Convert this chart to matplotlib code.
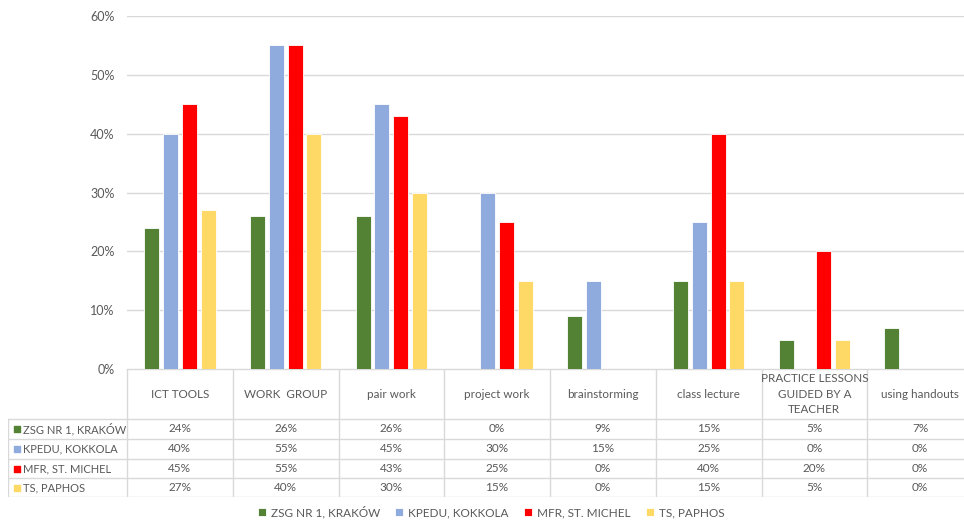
import matplotlib.pyplot as plt
import numpy as np

plt.rcParams['font.family'] = ['Lato', 'DejaVu Sans']

categories = ['ICT TOOLS', 'WORK  GROUP', 'pair work', 'project work', 'brainstorming',
              'class lecture', 'PRACTICE LESSONS\nGUIDED BY A\nTEACHER', 'using handouts']
series_names = ['ZSG NR 1, KRAKÓW', 'KPEDU, KOKKOLA', 'MFR, ST. MICHEL', 'TS, PAPHOS']
zsg = [24, 26, 26, 0, 9, 15, 5, 7]
kpedu = [40, 55, 45, 30, 15, 25, 0, 0]
mfr = [45, 55, 43, 25, 0, 40, 20, 0]
ts = [27, 40, 30, 15, 0, 15, 5, 0]
colors = ['#548235', '#8FAADC', '#FF0000', '#FFD966']

values = [zsg, kpedu, mfr, ts]
text_col = '#595959'
grid_col = '#D9D9D9'

W, H = 964, 521
fig = plt.figure(figsize=(W / 100, H / 100), dpi=100)

# main bar area, pixel box converted to figure fractions (runs a bit past the right edge)
left, right, top, bottom = 127, 973, 16, 369
ax = fig.add_axes([left / W, 1 - bottom / H, (right - left) / W, (bottom - top) / H])

x = np.arange(len(categories))
width = 0.142
step = 0.178
for i, (name, vals, c) in enumerate(zip(series_names, values, colors)):
    offs = (i - 1.5) * step
    ax.bar(x + offs, vals, width, color=c, edgecolor='white', linewidth=0.6, label=name, zorder=3)

ax.set_xlim(-0.5, len(categories) - 0.5)
ax.set_ylim(0, 60)
ax.set_yticks(range(0, 61, 10))
ax.set_yticklabels([f'{v}%' for v in range(0, 61, 10)], color=text_col, fontsize=9)
ax.tick_params(axis='y', length=0, pad=9)
ax.set_xticks([])
ax.yaxis.grid(True, color=grid_col, linewidth=1, zorder=0)
for s in ax.spines.values():
    s.set_visible(False)

# data table below the bars
tleft, tbottom = 8, 497
tax = fig.add_axes([tleft / W, 1 - tbottom / H, (right - tleft) / W, (tbottom - bottom) / H])
unit = (right - left) / len(categories)
tax.set_xlim(-0.5 - (left - tleft) / unit, len(categories) - 0.5)
tax.set_ylim(tbottom, bottom)
tax.axis('off')

row_lines = [419, 439, 459, 478, 497]
lw = 1
xl0 = tax.get_xlim()[0]
# horizontal lines
tax.plot([-0.5, len(categories) - 0.5], [bottom, bottom], color=grid_col, lw=lw)
for yl in row_lines:
    tax.plot([xl0, len(categories) - 0.5], [yl, yl], color=grid_col, lw=lw)
# vertical lines
for k in range(len(categories) + 1):
    tax.plot([k - 0.5, k - 0.5], [bottom, tbottom], color=grid_col, lw=lw)
tax.plot([xl0] * 2, [row_lines[0], tbottom], color=grid_col, lw=lw)

for k, cat in enumerate(categories):
    tax.text(k, (bottom + row_lines[0]) / 2, cat, ha='center', va='center',
             color=text_col, fontsize=8.4, linespacing=1.45)

for r, (name, vals, c) in enumerate(zip(series_names, values, colors)):
    yc = (row_lines[r] + row_lines[r + 1]) / 2
    tax.scatter([xl0 + 8.5 / unit], [yc], marker='s', s=25, color=c, clip_on=False)
    tax.text(xl0 + 15 / unit, yc, name, ha='left', va='center', color=text_col, fontsize=8)
    for k, v in enumerate(vals):
        tax.text(k, yc, f'{v}%', ha='center', va='center', color=text_col, fontsize=8.5)

leg = fig.legend(loc='center', bbox_to_anchor=(491 / W, 1 - 512 / H), ncol=4, frameon=False,
                 fontsize=8.5, handlelength=0.7, handleheight=0.7, handletextpad=0.4,
                 columnspacing=1.3)
for t in leg.get_texts():
    t.set_color(text_col)

fig.savefig('out.png', dpi=100, facecolor='white')
